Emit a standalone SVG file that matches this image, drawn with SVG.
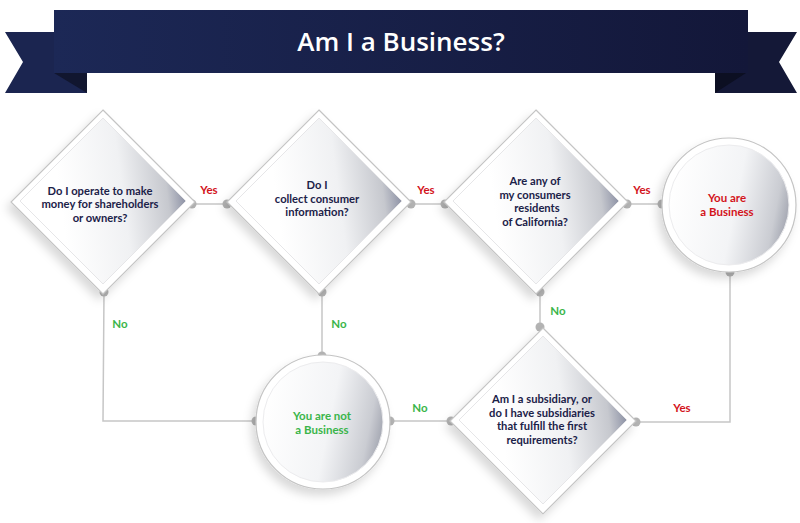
<svg xmlns="http://www.w3.org/2000/svg" width="800" height="523" viewBox="0 0 800 523">
<defs>
<linearGradient id="bannerG" x1="0" y1="0" x2="1" y2="0">
<stop offset="0" stop-color="#1c2856"/>
<stop offset="1" stop-color="#131739"/>
</linearGradient>
<linearGradient id="diaG" x1="0.25" y1="0.55" x2="1" y2="0.45">
<stop offset="0" stop-color="#ffffff"/>
<stop offset="0.5" stop-color="#f0f1f3"/>
<stop offset="0.85" stop-color="#c6c8ce"/>
<stop offset="1" stop-color="#8a8fa3"/>
</linearGradient>
<linearGradient id="cirG" x1="0" y1="0.4" x2="1" y2="0.6">
<stop offset="0" stop-color="#ffffff"/>
<stop offset="0.55" stop-color="#f3f4f6"/>
<stop offset="0.88" stop-color="#caccd2"/>
<stop offset="1" stop-color="#a3a6b1"/>
</linearGradient>
<filter id="sh" x="-30%" y="-30%" width="160%" height="160%">
<feDropShadow dx="-4" dy="6" stdDeviation="5" flood-color="#000" flood-opacity="0.15"/>
</filter>
</defs>
<style>
.frame{fill:#ffffff;stroke:#c4c4c4;stroke-width:1.2}
.dia{fill:url(#diaG);stroke:#e6e6e8;stroke-width:1}
.cir{fill:url(#cirG);stroke:#ececee;stroke-width:1}
.q{font-family:Lato,"Open Sans",sans-serif;font-weight:700;font-size:11.2px;fill:#1b2148;text-anchor:middle}
.yes{font-family:Lato,"Open Sans",sans-serif;font-weight:700;font-size:11.5px;fill:#d3141c;text-anchor:middle}
.no{font-family:Lato,"Open Sans",sans-serif;font-weight:700;font-size:11.5px;fill:#3ab54a;text-anchor:middle}
.line{fill:none;stroke:#c6c6c6;stroke-width:1.5}
.dot{fill:#b3b3b3}
.title{font-family:"Open Sans",sans-serif;font-weight:600;font-size:26px;fill:#ffffff;text-anchor:middle}
</style>
<rect width="800" height="523" fill="#ffffff"/>

<g id="banner">
<polygon points="5,32 87,32 87,93 5,93 23,62" fill="#1b2550"/>
<polygon points="797,32 715,32 715,93 797,93 779,62" fill="#141837"/>
<polygon points="54,73 87,73 87,93" fill="#11162f"/>
<polygon points="746,73 715,73 715,93" fill="#0c0f22"/>
<rect x="54" y="10" width="694" height="63" fill="url(#bannerG)"/>
<text class="title" x="401" y="51">Am I a Business?</text>
</g>

<g id="connectors">
<line class="line" x1="192" y1="204" x2="227" y2="204"/>
<line class="line" x1="411" y1="204" x2="445" y2="204"/>
<line class="line" x1="627" y1="204" x2="662" y2="204"/>
<polyline class="line" points="104,292 103,421 256,421"/>
<line class="line" x1="322" y1="292" x2="322" y2="356"/>
<line class="line" x1="390" y1="421" x2="451" y2="421"/>
<line class="line" x1="540" y1="292" x2="540" y2="327"/>
<polyline class="line" points="636,422 730,422 730,272"/>
<circle class="dot" cx="192" cy="204" r="4.5"/>
<circle class="dot" cx="227" cy="204" r="4.5"/>
<circle class="dot" cx="411" cy="204" r="4.5"/>
<circle class="dot" cx="445" cy="204" r="4.5"/>
<circle class="dot" cx="627" cy="204" r="4.5"/>
<circle class="dot" cx="662" cy="204" r="4.5"/>
<circle class="dot" cx="104" cy="292" r="4.5"/>
<circle class="dot" cx="322" cy="292" r="4.5"/>
<circle class="dot" cx="540" cy="292" r="4.5"/>
<circle class="dot" cx="322" cy="356" r="4.5"/>
<circle class="dot" cx="256" cy="421" r="4.5"/>
<circle class="dot" cx="390" cy="421" r="4.5"/>
<circle class="dot" cx="451" cy="421" r="4.5"/>
<circle class="dot" cx="540" cy="327" r="4.5"/>
<circle class="dot" cx="636" cy="422" r="4.5"/>
<circle class="dot" cx="730" cy="272" r="4.5"/>
<text class="yes" x="209" y="194">Yes</text>
<text class="yes" x="426" y="194">Yes</text>
<text class="yes" x="642" y="194">Yes</text>
<text class="yes" x="682" y="412">Yes</text>
<text class="no" x="120" y="328">No</text>
<text class="no" x="339" y="328">No</text>
<text class="no" x="420" y="412">No</text>
<text class="no" x="558" y="315">No</text>
</g>

<g id="q1">
<polygon class="frame" filter="url(#sh)" points="103,110 195,202 103,294 11,202"/>
<polygon class="dia" points="103,118 186,201 103,284 20,201"/>
<text class="q" x="100" y="194.5">Do I operate to make</text>
<text class="q" x="100" y="208">money for shareholders</text>
<text class="q" x="100" y="221.5">or owners?</text>
</g>

<g id="q2">
<polygon class="frame" filter="url(#sh)" points="319,110 411,202 319,294 227,202"/>
<polygon class="dia" points="319,118 402,201 319,284 236,201"/>
<text class="q" x="317" y="189">Do I</text>
<text class="q" x="317" y="202.5">collect consumer</text>
<text class="q" x="317" y="216">information?</text>
</g>

<g id="q3">
<polygon class="frame" filter="url(#sh)" points="536,110 628,202 536,294 444,202"/>
<polygon class="dia" points="536,118 619,201 536,284 453,201"/>
<text class="q" x="535" y="185">Are any of</text>
<text class="q" x="535" y="198.5">my consumers</text>
<text class="q" x="537" y="212">residents</text>
<text class="q" x="535" y="225.5">of California?</text>
</g>

<g id="business">
<circle class="frame" filter="url(#sh)" cx="729" cy="205" r="67"/>
<circle class="cir" cx="729" cy="205" r="60"/>
<text class="yes" x="727" y="202">You are</text>
<text class="yes" x="727" y="216">a Business</text>
</g>

<g id="notbusiness">
<circle class="frame" filter="url(#sh)" cx="323" cy="422" r="67"/>
<circle class="cir" cx="323" cy="422" r="60"/>
<text class="no" x="322" y="420">You are not</text>
<text class="no" x="322" y="434">a Business</text>
</g>

<g id="q4">
<polygon class="frame" filter="url(#sh)" points="543,328 636,421 543,514 450,421"/>
<polygon class="dia" points="543,336 627,420 543,504 459,420"/>
<text class="q" x="542" y="403">Am I a subsidiary, or</text>
<text class="q" x="542" y="416.5">do I have subsidiaries</text>
<text class="q" x="542" y="430">that fulfill the first</text>
<text class="q" x="542" y="443.5">requirements?</text>
</g>
</svg>
